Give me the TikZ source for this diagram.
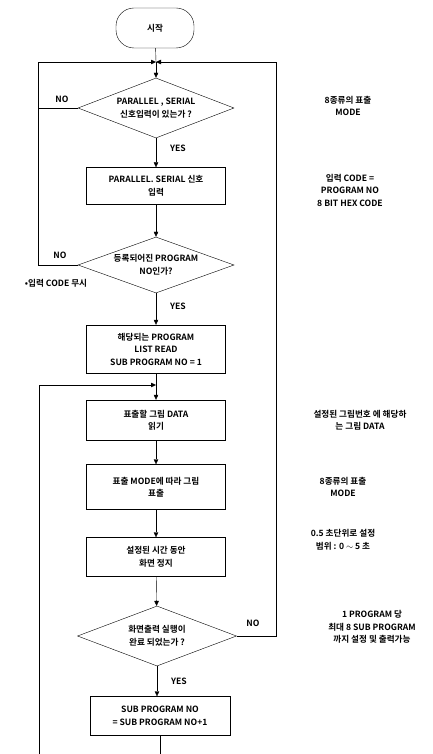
\documentclass[tikz,border=0pt]{standalone}
\usepackage{fontspec}
\setmainfont{Noto Sans CJK KR}[BoldFont=* Bold]
\usetikzlibrary{shapes.geometric,arrows.meta}
\begin{document}
\begin{tikzpicture}[x=1pt,y=-1pt,thin,font=\bfseries\fontsize{8.6}{12.5}\selectfont,
    stepbox/.style={rectangle,draw,minimum width=139pt,align=center,inner sep=2pt},
    ask/.style={diamond,draw,align=center,inner sep=0pt,shape aspect=2.6,
      minimum width=156pt,minimum height=60pt},
    startbox/.style={rectangle,draw,rounded corners=18pt,minimum width=78pt,minimum height=40pt},
    note/.style={align=center},
    flow/.style={-{Triangle[width=4.5pt,length=5pt]}} ]
    \useasboundingbox (0,0) rectangle (433,754);
    \node at (155,28) [startbox] (start) {시작};
    \coordinate (j1) at (156,62);
    \node at (156,108) [ask] (d1) {PARALLEL , SERIAL\\신호입력이 있는가 ?};
    \node at (156,186) [stepbox,minimum height=37pt] (b1) {PARALLEL. SERIAL 신호\\입력};
    \node at (156,265) [ask,minimum height=56pt] (d2) {등록되어진 PROGRAM\\NO인가?};
    \node at (156,349) [stepbox,minimum height=48pt,inner sep=1pt] (b2) {해당되는 PROGRAM\\LIST READ\\SUB PROGRAM NO = 1};
    \coordinate (j2) at (156,385);
    \node at (156,420) [stepbox,minimum height=40pt] (b3) {표출할 그림 DATA\\읽기};
    \node at (156,487) [stepbox,minimum height=45pt] (b4) {표출 MODE에 따라 그림\\표출};
    \node at (156,557) [stepbox,minimum height=39pt] (b5) {설정된 시간 동안\\화면 정지};
    \node at (157,636) [ask,minimum width=159pt] (d3) {화면출력 실행이\\완료 되었는가 ?};
    \node at (160,716) [stepbox,minimum width=140pt,minimum height=39pt] (b6) {SUB PROGRAM NO\\= SUB PROGRAM NO+1};
    % loop ends
    \coordinate (l1) at (38,62);
    \coordinate (l2) at (38,265);
    \coordinate (l3) at (38,108);
    \coordinate (r1) at (276,62);
    \coordinate (r2) at (276,636);
    \coordinate (e1) at (39,754);
    \coordinate (e2) at (39,385);
    \coordinate (e3) at (160,754);
    % main flow
    \draw [-] (start) to (j1);
    \draw [flow] (j1) to (d1);
    \draw [flow] (d1) to (b1);
    \draw [flow] (b1) to (d2);
    \draw [flow] (d2) to (b2);
    \draw [-] (b2) to (j2);
    \draw [flow] (j2) to (b3);
    \draw [flow] (b3) to (b4);
    \draw [flow] (b4) to (b5);
    \draw [flow] (b5) to (d3);
    \draw [flow] (d3.south) to (d3.south |- b6.north);
    \draw [-] (b6.south) to (e3);
    % back loops
    \draw [flow] (d2.west) -- (l2) -- (l1) -- (j1);
    \draw [-] (d1.west) -- (l3);
    \draw [flow] (d3.east) -- (r2) -- (r1) -- (j1);
    \draw [flow] (e1) -- (e2) -- (j2);
    % branch labels
    \node at (62,99) (no1) {NO};
    \node at (60,255) (no2) {NO};
    \node at (56,283) (skip) {•입력 CODE 무시};
    \node at (253,623) (no3) {NO};
    \node at (178,148) (yes1) {YES};
    \node at (178,306) (yes2) {YES};
    \node at (179,681) (yes3) {YES};
    % remarks
    \node at (348,106) [note] (n1) {8종류의 표출\\MODE};
    \node at (350,190) [note] (n2) {입력 CODE =\\PROGRAM NO\\8 BIT HEX CODE};
    \node at (360,420) [note] (n3) {설정된 그림번호 에 해당하\\는 그림 DATA};
    \node at (343,487) [note] (n4) {8종류의 표출\\MODE};
    \node at (343,540) [note] (n5) {0.5 초단위로 설정\\범위 : 0 $\sim$ 5 초};
    \node at (372,627) [note] (n6) {1 PROGRAM 당\\최대 8 SUB PROGRAM\\까지 설정 및 출력가능};
\end{tikzpicture}
\end{document}
